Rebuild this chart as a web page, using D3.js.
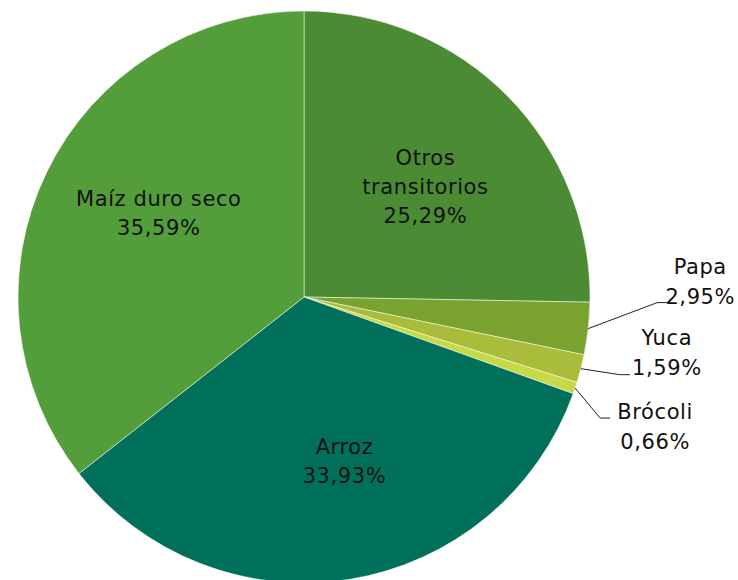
<!DOCTYPE html>
<html>
<head>
<meta charset="utf-8">
<script src="https://cdn.jsdelivr.net/npm/d3@7"></script>
<style>
	body { margin: 0; background: #fff; }
	text { font-family: "DejaVu Sans", sans-serif; font-size: 21px; letter-spacing: 0.6px; fill: #111; }
</style>
</head>
<body>
<div id="chart"></div>
<script>
// categories in clockwise order from 12 o'clock
var categories = ["Otros transitorios", "Papa", "Yuca", "Brócoli", "Arroz", "Maíz duro seco"];
var values = [25.29, 2.95, 1.59, 0.66, 33.93, 35.59];
var labels = ["25,29%", "2,95%", "1,59%", "0,66%", "33,93%", "35,59%"];
var colors = ["#4b8b33", "#79a22f", "#a9bd3a", "#c7d944", "#00705a", "#539d3a"];

var width = 738, height = 580;
var cx = 304, cy = 297, radius = 286;

var svg = d3.select("#chart").append("svg")
	.attr("width", width)
	.attr("height", height);

var g = svg.append("g").attr("transform", "translate(" + cx + "," + cy + ")");

var pie = d3.pie().sort(null).value(function(d){ return d.value; });
var arc = d3.arc().innerRadius(0).outerRadius(radius);
var labelArc = d3.arc().innerRadius(166).outerRadius(166);
var edgeArc = d3.arc().innerRadius(radius).outerRadius(radius);

var data = categories.map(function(c, i){
	return { name: c, value: values[i], label: labels[i], color: colors[i] };
});
var arcs = pie(data);

g.selectAll("path.slice")
	.data(arcs)
	.enter().append("path")
	.attr("class", "slice")
	.attr("d", arc)
	.attr("fill", function(d){ return d.data.color; })
	.attr("stroke", "rgba(255,255,255,0.5)")
	.attr("stroke-width", 1);

// big slices: label inside
var inside = arcs.filter(function(d){ return d.data.value > 10; });
// name split to lines where the original wraps
var lines = { "Otros transitorios": ["Otros", "transitorios"] };
// small nudges from the centroid, like excel's placement
var nudge = { "Otros transitorios": [3, 6], "Maíz duro seco": [4, -11], "Arroz": [14, 0] };

inside.forEach(function(d){
	var c = labelArc.centroid(d);
	var n = nudge[d.data.name];
	var nameLines = lines[d.data.name] || [d.data.name];
	var all = nameLines.concat([d.data.label]);
	var t = g.append("text")
		.attr("text-anchor", "middle")
		.attr("transform", "translate(" + (c[0] + n[0]) + "," + (c[1] + n[1]) + ")");
	all.forEach(function(s, i){
		t.append("tspan")
			.attr("x", 0)
			.attr("y", (i - (all.length - 1) / 2) * 29)
			.attr("dy", "0.35em")
			.text(s);
	});
});

// small slices: label outside with leader line (elbow, label offset from edge point)
var outside = arcs.filter(function(d){ return d.data.value <= 10; });
var offsets = { "Papa": [69, -26], "Yuca": [39, 6], "Brócoli": [25, 30] };
var textPos = { "Papa": [112, -62], "Yuca": [86, -31], "Brócoli": [80, 24] };

outside.forEach(function(d){
	var p = edgeArc.centroid(d);
	var o = offsets[d.data.name];
	var elbow = [p[0] + o[0], p[1] + o[1]];
	var end = [elbow[0] + 10, elbow[1]];
	g.append("polyline")
		.attr("points", [p, elbow, end].map(function(q){ return q.join(","); }).join(" "))
		.attr("fill", "none")
		.attr("stroke", "#222")
		.attr("stroke-width", 1);
	var tp = textPos[d.data.name];
	var t = g.append("text")
		.attr("text-anchor", "middle")
		.attr("transform", "translate(" + (p[0] + tp[0]) + "," + (p[1] + tp[1]) + ")");
	[d.data.name, d.data.label].forEach(function(s, i){
		t.append("tspan")
			.attr("x", 0)
			.attr("y", i * 30)
			.attr("dy", "0.35em")
			.text(s);
	});
});
</script>
</body>
</html>
